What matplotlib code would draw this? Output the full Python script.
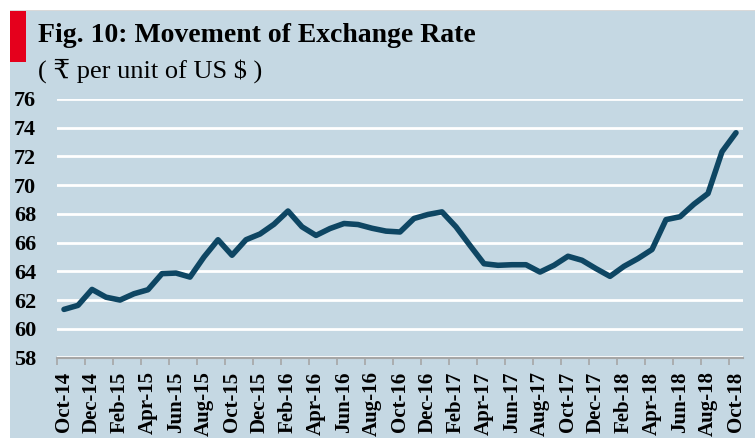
import matplotlib
matplotlib.use("Agg")
import matplotlib.pyplot as plt
from matplotlib.patches import Rectangle

# Monthly INR per USD, Oct-2014 .. Oct-2018
months = ["Oct-14", "Nov-14", "Dec-14", "Jan-15", "Feb-15", "Mar-15", "Apr-15",
          "May-15", "Jun-15", "Jul-15", "Aug-15", "Sep-15", "Oct-15", "Nov-15",
          "Dec-15", "Jan-16", "Feb-16", "Mar-16", "Apr-16", "May-16", "Jun-16",
          "Jul-16", "Aug-16", "Sep-16", "Oct-16", "Nov-16", "Dec-16", "Jan-17",
          "Feb-17", "Mar-17", "Apr-17", "May-17", "Jun-17", "Jul-17", "Aug-17",
          "Sep-17", "Oct-17", "Nov-17", "Dec-17", "Jan-18", "Feb-18", "Mar-18",
          "Apr-18", "May-18", "Jun-18", "Jul-18", "Aug-18", "Sep-18", "Oct-18"]
rate = [61.35, 61.63, 62.74, 62.20, 62.00, 62.44, 62.72, 63.84, 63.88, 63.60,
        65.00, 66.20, 65.12, 66.20, 66.60, 67.28, 68.20, 67.10, 66.50, 66.98,
        67.33, 67.26, 67.00, 66.80, 66.74, 67.68, 67.96, 68.14, 67.10, 65.80,
        64.53, 64.42, 64.46, 64.46, 63.95, 64.42, 65.05, 64.77, 64.19, 63.65,
        64.35, 64.89, 65.52, 67.60, 67.80, 68.68, 69.42, 72.33, 73.65]
y_ticks = list(range(58, 78, 2))

W, H = 755, 438
bg = "#C5D8E3"
serif = ["Liberation Serif", "DejaVu Serif", "DejaVu Sans"]

fig = plt.figure(figsize=(W / 100, H / 100), dpi=100)
fig.patch.set_facecolor("white")

# panel background, top rule and red marker
fig.patches.append(Rectangle((10 / W, 0), 1, 1 - 10.5 / H, transform=fig.transFigure,
                             facecolor=bg, edgecolor="none", zorder=0))
fig.patches.append(Rectangle((10 / W, 1 - 11 / H), 1, 1.2 / H, transform=fig.transFigure,
                             facecolor="#D9D9D9", edgecolor="none", zorder=1))
fig.patches.append(Rectangle((9.5 / W, 1 - 62 / H), 16.5 / W, 51 / H, transform=fig.transFigure,
                             facecolor="#E5001C", edgecolor="none", zorder=2))

fig.text(38 / W, 1 - 41.5 / H, "Fig. 10: Movement of Exchange Rate", family=serif,
         fontsize=20, fontweight="bold", va="baseline", ha="left", zorder=5)
fig.text(38 / W, 1 - 78 / H, "( \u20b9 per unit of US $ )", family=serif,
         fontsize=19, va="baseline", ha="left", zorder=5)

ax = fig.add_axes([57 / W, 1 - 357.5 / H, 686 / W, 258.5 / H])
ax.set_zorder(10)
ax.set_facecolor("none")

x = list(range(len(months)))
ax.plot(x, rate, color="#0E4663", lw=4, solid_joinstyle="round",
        solid_capstyle="round", zorder=3)

ax.set_xlim(-0.5, len(months) - 0.5)
ax.set_ylim(58, 76)
ax.set_yticks(y_ticks)
ax.set_yticklabels([str(v) for v in y_ticks], family=serif, fontsize=16,
                   fontweight="bold")
ax.tick_params(axis="y", length=0, pad=15)
ax.grid(axis="y", color="white", lw=2)
ax.set_axisbelow(True)

# tick marks between categories, labels on every other month
ax.set_xticks([i - 0.5 for i in range(0, len(months), 2)])
ax.set_xticklabels([])
ax.set_xticks(list(range(0, len(months), 2)), minor=True)
ax.set_xticklabels(months[::2], minor=True, rotation=90, family=serif,
                   fontsize=15, fontweight="bold", va="top", ha="center")
ax.tick_params(axis="x", which="major", length=5, color="#A6A6A6", width=1.2)
ax.tick_params(axis="x", which="minor", length=0, pad=10)

for s in ["top", "right", "left"]:
    ax.spines[s].set_visible(False)
ax.spines["bottom"].set_color("#A6A6A6")
ax.spines["bottom"].set_linewidth(1.5)
ax.spines["bottom"].set_zorder(2.5)

fig.savefig("out.png", dpi=100)
